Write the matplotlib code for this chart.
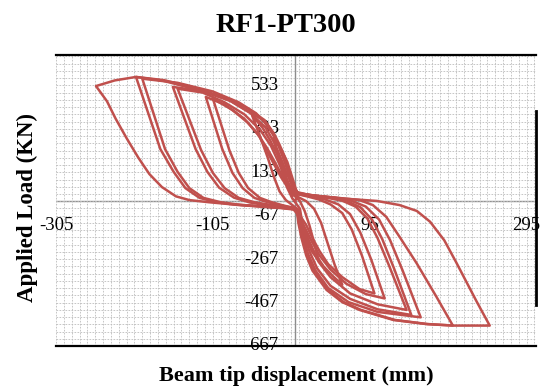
import matplotlib
matplotlib.use("Agg")
import matplotlib.pyplot as plt
import numpy as np

# Hysteresis record of RF1-PT300: (beam tip displacement [mm], applied load [kN]),
# one list per loading cycle, in the order the cycles were run.
cycle_1 = [(0, 0), (3, 30), (-3, 100), (-10, 180), (-18, 240), (-28, 290),
           (-22, 210), (-16, 130), (-10, 60), (-4, 15), (2, -15), (6, -35),
           (9, -100), (14, -170), (21, -230), (30, -275),
           (24, -190), (18, -110), (12, -45), (6, 0), (0, 22), (-4, 30)]

cycle_2 = [(-4, 30), (-8, 70), (-14, 140), (-22, 210), (-32, 280), (-42, 340), (-55, 395),
           (-45, 300), (-35, 200), (-27, 110), (-20, 45), (-12, 5), (-3, -20), (4, -40),
           (9, -100), (16, -170), (25, -240), (36, -300), (48, -345), (60, -385),
           (50, -290), (41, -190), (33, -100), (24, -35), (14, 0), (3, 20), (-3, 35)]

cycle_3 = [(-3, 35), (-10, 65), (-18, 110), (-27, 170), (-36, 230), (-46, 300), (-60, 360), (-80, 420), (-105, 472),
           (-84, 235), (-72, 130), (-60, 60), (-45, 15), (-30, -5), (-15, -20), (-3, -30),
           (5, -60), (14, -110), (22, -170), (31, -230), (42, -290), (60, -350), (82, -405), (101, -425),
           (85, -250), (72, -130), (60, -55), (45, -15), (30, 8), (15, 22), (0, 35)]

cycle_4 = [(0, 35), (-9, 70), (-17, 120), (-26, 180), (-36, 245), (-48, 310), (-65, 380), (-90, 445), (-114, 480),
           (-93, 240), (-80, 130), (-67, 60), (-52, 15), (-35, -5), (-18, -20), (-4, -30),
           (4, -65), (12, -120), (21, -185), (31, -250), (45, -315), (65, -380), (90, -428), (114, -448),
           (97, -270), (83, -145), (70, -60), (55, -15), (38, 8), (20, 22), (2, 33)]

cycle_5 = [(2, 33), (-6, 65), (-14, 120), (-22, 185), (-31, 255), (-45, 330), (-65, 400), (-90, 455),
           (-118, 500), (-150, 518),
           (-120, 235), (-105, 130), (-90, 60), (-72, 15), (-52, -5), (-30, -18), (-12, -28), (0, -34),
           (5, -75), (12, -140), (20, -210), (30, -280), (45, -350), (70, -425), (105, -475), (142, -501),
           (120, -300), (105, -170), (92, -80), (77, -25), (60, 2), (40, 16), (20, 26), (3, 35)]

cycle_6 = [(3, 35), (-4, 70), (-11, 130), (-18, 195), (-26, 265), (-38, 340), (-57, 405), (-82, 460),
           (-115, 505), (-156, 526),
           (-127, 240), (-112, 135), (-97, 62), (-78, 16), (-58, -6), (-35, -20), (-12, -30), (2, -36),
           (6, -85), (11, -150), (18, -230), (28, -310), (45, -390), (70, -450), (105, -498), (148, -524),
           (126, -310), (111, -175), (98, -85), (83, -28), (65, 2), (45, 16), (22, 27), (4, 36)]

cycle_7 = [(4, 36), (-3, 70), (-9, 135), (-16, 205), (-24, 280), (-34, 345), (-50, 405), (-72, 455),
           (-105, 505), (-150, 545), (-195, 564),
           (-166, 240), (-150, 135), (-135, 60), (-117, 15), (-95, -5), (-70, -17), (-40, -25), (-15, -31), (1, -38),
           (5, -90), (10, -160), (16, -240), (26, -320), (42, -400), (68, -465), (105, -510), (160, -535),
           (137, -320), (121, -180), (107, -85), (90, -25), (70, 4), (48, 17), (24, 26), (3, 38)]

cycle_8 = [(3, 38), (-3, 70), (-8, 130), (-14, 200), (-21, 260), (-29, 311), (-41, 373), (-63, 420),
           (-84, 465), (-127, 515), (-169, 555), (-203, 572),
           (-172, 240), (-155, 135), (-140, 60), (-122, 15), (-100, -5), (-75, -17), (-45, -25), (-18, -32), (2, -40),
           (4, -100), (8, -170), (14, -250), (22, -320), (40, -409), (60, -465), (82, -501), (125, -547),
           (167, -566), (201, -573),
           (180, -440), (155, -287), (133, -164), (116, -72), (99, -18), (82, 5), (55, 15), (25, 24), (3, 36)]

cycle_9 = [(3, 36), (-2, 70), (-7, 130), (-13, 200), (-20, 260), (-27, 311), (-39, 373), (-60, 425),
           (-82, 468), (-125, 518), (-167, 557), (-203, 572), (-230, 556), (-254, 530),
           (-240, 460), (-229, 380), (-215, 290), (-200, 200), (-186, 125), (-170, 65), (-152, 22),
           (-135, 5), (-110, -5), (-80, -15), (-50, -22), (-20, -30), (3, -38),
           (6, -100), (10, -170), (16, -250), (24, -320), (42, -409), (62, -465), (84, -501), (127, -547),
           (169, -566), (203, -573), (248, -573),
           (240, -520), (231, -460), (218, -370), (205, -280), (190, -180), (172, -95), (155, -45),
           (133, -18), (104, 1), (61, 12), (18, 28), (-7, 50)]

cycles = [cycle_1, cycle_2, cycle_3, cycle_4, cycle_5, cycle_6, cycle_7, cycle_8, cycle_9]

x_tick_values = [-305, -105, 95, 295]
y_tick_values = [533, 333, 133, -67, -267, -467, -667]

title_text = "RF1-PT300"
x_label = "Beam tip displacement (mm)"
y_label = "Applied Load (KN)"

SERIF = ["Liberation Serif", "DejaVu Serif"]
RED = "#C0504D"

fig = plt.figure(figsize=(5.44, 3.90), dpi=100)
ax = fig.add_axes([56 / 544, 1 - 346 / 390, 480 / 544, 291 / 390])
ax.set_xlim(-305, 307)
ax.set_ylim(-667, 673)

# fine dotted grid
ax.set_xticks([])
ax.set_yticks([])
ax.set_xticks(np.arange(-305, 308, 10), minor=True)
ax.set_yticks(np.arange(-667, 673, 200 / 6), minor=True)
ax.grid(which="minor", color="#bdbdbd", linewidth=0.6, linestyle=(0, (2, 1.6)), zorder=0)
ax.tick_params(which="both", length=0, labelbottom=False, labelleft=False)

# frame: black top and bottom, partial right edge
for side in ("left", "right"):
    ax.spines[side].set_visible(False)
for side in ("top", "bottom"):
    ax.spines[side].set_color("black")
    ax.spines[side].set_linewidth(1.6)
ax.plot([1, 1], [0.141, 0.808], transform=ax.transAxes, color="black", lw=2.0, clip_on=False, zorder=5)

# axis lines through the origin
ax.axhline(0, color="#8c8c8c", lw=1.0, zorder=1)
ax.axvline(0, color="#8c8c8c", lw=1.0, zorder=1)

# tick labels sit next to the axis lines, underneath the curves
for v in x_tick_values:
    ax.text(v, -110, f"{v}", ha="center", va="center", fontsize=13.5, family=SERIF, zorder=2, clip_on=False)
for v in y_tick_values:
    ax.text(-21, v, f"{v}", ha="right", va="center", fontsize=13.5, family=SERIF, zorder=2, clip_on=False)

# load-displacement curve
for cyc in cycles:
    u = [p[0] for p in cyc]
    f = [p[1] for p in cyc]
    ax.plot(u, f, color=RED, lw=1.8, solid_joinstyle="round", zorder=3)

fig.text(286 / 544, 1 - 25 / 390, title_text, ha="center", va="center", fontsize=20.5,
         fontweight="bold", family=SERIF)
fig.text(296 / 544, 1 - 376 / 390, x_label, ha="center", va="center", fontsize=16,
         fontweight="bold", family=SERIF)
fig.text(27 / 544, 1 - 208 / 390, y_label, ha="center", va="center", rotation=90, fontsize=16.5,
         fontweight="bold", family=SERIF)

fig.savefig("out.png", dpi=100)
